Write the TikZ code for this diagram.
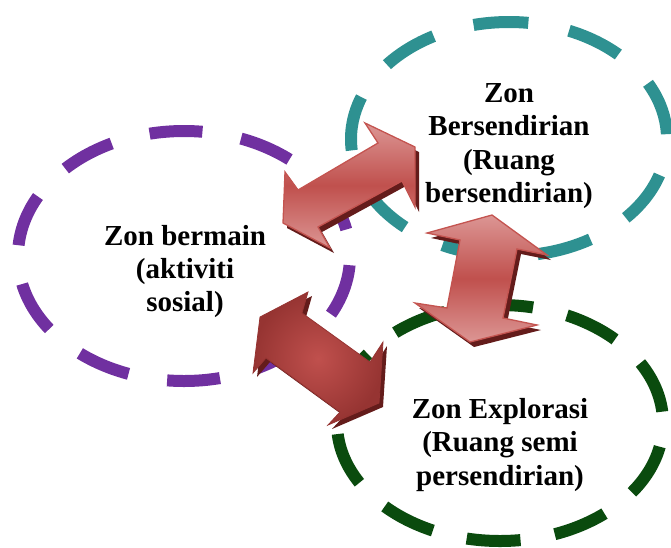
\documentclass[tikz,border=0pt]{standalone}
\usepackage{fontspec}
\setmainfont{Liberation Serif}
\definecolor{zpurple}{RGB}{112,48,160}
\definecolor{zteal}{RGB}{46,145,145}
\definecolor{zgreen}{RGB}{10,75,14}
\definecolor{alight}{RGB}{220,150,148}
\definecolor{adark}{RGB}{192,80,77}
\definecolor{aedge}{RGB}{196,84,80}
\definecolor{ashadow}{RGB}{100,28,27}
\definecolor{cdark}{RGB}{150,52,50}
\def\arrowApath{(285,172) -- (298,190) -- (378,143) -- (365,123) -- (415,147) -- (415,207) -- (402,181) -- (318,227) -- (330,248) -- (283,223) -- cycle}
\def\arrowBpath{(427,233) -- (492,215) -- (547,255) -- (517,249) -- (503,318) -- (537,325) -- (470,342) -- (415,303) -- (447,308) -- (460,240) -- cycle}
\def\arrowCpath{(308,292) -- (302,313) -- (370,362) -- (383,342) -- (379,403) -- (328,425) -- (340,412) -- (266,358) -- (253,373) -- (260,317) -- cycle}
\begin{document}
\begin{tikzpicture}[x=1pt,y=-1pt,
  zone/.style={line width=12pt},
  lbl/.style={align=center, font=\fontsize{29}{33.3}\selectfont\bfseries, inner sep=0pt},
  glossy/.style={draw=aedge, line width=1.3pt, line join=miter, top color=alight, bottom color=alight, middle color=adark},
  deep/.style={draw=cdark, line width=0.8pt, line join=miter, inner color=adark, outer color=cdark},
  shade3d/.style={fill=ashadow}
]
\useasboundingbox (0,0) rectangle (671,547);
% zones
\draw[zone, zpurple, dash pattern=on 53pt off 39.2pt, dash phase=83pt] (184,256) ellipse [x radius=166, y radius=125];
\draw[zone, zteal, dash pattern=on 55pt off 41.5pt, dash phase=59.5pt] (509,139) ellipse [x radius=158, y radius=117];
\draw[zone, zgreen, dash pattern=on 54pt off 34.8pt, dash phase=64.8pt] (500,423) ellipse [x radius=163, y radius=118];
% arrows
\path[shade3d, shift={(4,5)}] \arrowApath;
\path[glossy] \arrowApath;
\path[shade3d, shift={(4,5)}] \arrowBpath;
\path[glossy] \arrowBpath;
\path[shade3d, shift={(4,4)}] \arrowCpath;
\path[deep] \arrowCpath;
% labels
\node[lbl] (tbermain) at (185,271.5) {Zon bermain\\(aktiviti\\sosial)};
\node[lbl] (tsendiri) at (509,146) {Zon\\Bersendirian\\(Ruang\\bersendirian)};
\node[lbl] (texplor) at (500,445) {Zon Explorasi\\(Ruang semi\\persendirian)};
\end{tikzpicture}
\end{document}
